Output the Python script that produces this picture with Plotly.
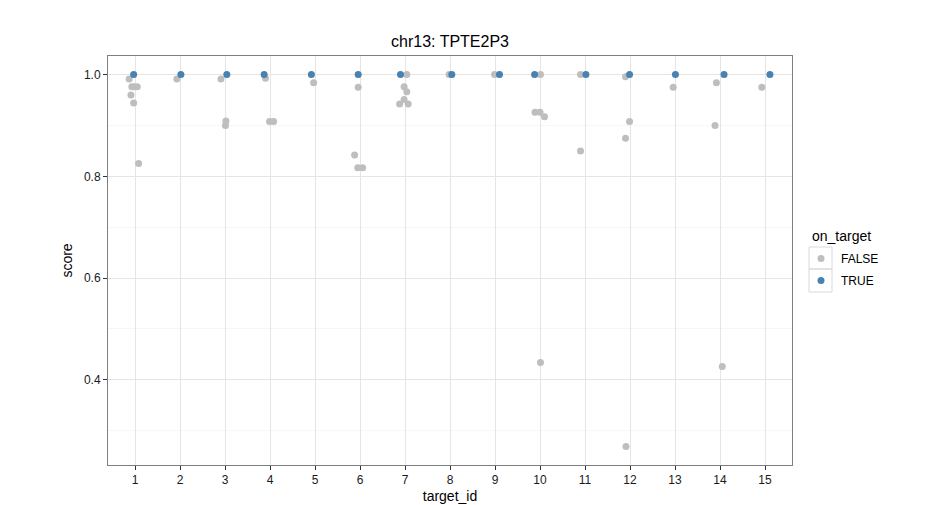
import plotly.graph_objects as go

# ---- data ----
targets = list(range(1, 16))
tick_labels = [str(t) for t in targets]

# off-target (FALSE) points: jittered target position and score
false_x = [0.87, 0.93, 0.99, 1.05, 0.91, 0.97, 1.08,
           1.93,
           2.91, 3.02, 3.01,
           3.90, 3.99, 4.08,
           4.97,
           5.96, 5.88, 5.95, 6.06,
           7.04, 6.98, 7.04, 6.98, 6.88, 7.07,
           7.98,
           8.99,
           10.01, 9.89, 10.00, 10.10, 10.01,
           10.90, 10.90,
           11.90, 11.99, 11.90, 11.91,
           12.96,
           13.92, 13.89, 14.05,
           14.93]
false_score = [0.9915, 0.976, 0.976, 0.976, 0.960, 0.944, 0.825,
               0.9915,
               0.9915, 0.909, 0.900,
               0.993, 0.908, 0.908,
               0.984,
               0.975, 0.842, 0.817, 0.817,
               1.0, 0.976, 0.9665, 0.951, 0.942, 0.942,
               1.0,
               1.0,
               1.0, 0.926, 0.926, 0.917, 0.434,
               1.0, 0.850,
               0.996, 0.908, 0.875, 0.269,
               0.975,
               0.984, 0.900, 0.426,
               0.975]

# on-target (TRUE) points
true_x = [0.97, 2.02, 3.04, 3.87, 4.92, 5.96, 6.90, 8.04, 9.10, 9.88,
          11.02, 11.99, 13.01, 14.09, 15.11]
true_score = [1.0] * 15

y_ticks = [0.4, 0.6, 0.8, 1.0]
y_tick_labels = ["0.4", "0.6", "0.8", "1.0"]

FONT = "Liberation Sans, Arial, Helvetica, sans-serif"
GREY = "#BEBEBE"
BLUE = "#4682B4"

# plot-area geometry (pixels)
L, R, T, B = 108, 792, 56, 465
W, H = R - L, B - T

def px_x(p):
    return (p - L) / W

def px_y(p):
    return (B - p) / H

fig = go.Figure()
fig.add_trace(go.Scatter(x=false_x, y=false_score, mode="markers", name="FALSE",
                         legendgroup="f",
                         marker=dict(color=GREY, size=7, line=dict(width=0))))
fig.add_trace(go.Scatter(x=true_x, y=true_score, mode="markers", name="TRUE",
                         legendgroup="t",
                         marker=dict(color=BLUE, size=7, line=dict(width=0))))

ymin = min(false_score + true_score)
ymax = max(false_score + true_score)
pad = (ymax - ymin) * 0.05

# legend key boxes
shapes = []
for y0, y1 in [(247, 269), (269, 292)]:
    shapes.append(dict(type="rect", xref="paper", yref="paper",
                       x0=px_x(809), x1=px_x(832), y0=px_y(y1), y1=px_y(y0),
                       line=dict(color="#D9D9D9", width=1), fillcolor="rgba(0,0,0,0)",
                       layer="below"))

annotations = [dict(text="on_target", xref="paper", yref="paper",
                    x=px_x(810), y=px_y(236), xanchor="left", yanchor="middle",
                    showarrow=False, font=dict(size=14, color="#000000"))]

fig.update_layout(
    width=946, height=505,
    margin=dict(l=L, r=946 - R, t=T, b=505 - B),
    paper_bgcolor="white", plot_bgcolor="white",
    font=dict(family=FONT, color="#000000"),
    title=dict(text="chr13: TPTE2P3", x=(L + R) / 2 / 946, xanchor="center",
               y=1 - 41 / 505, yanchor="middle",
               font=dict(size=16, color="#000000")),
    showlegend=True,
    legend=dict(font=dict(size=12), x=px_x(801), xanchor="left",
                y=px_y(244), yanchor="top", tracegroupgap=3,
                bgcolor="rgba(0,0,0,0)"),
    shapes=shapes,
    annotations=annotations,
)
fig.update_xaxes(
    range=[0.4, 15.6], tickvals=targets, ticktext=tick_labels,
    showgrid=True, gridcolor="#E5E5E5", gridwidth=1, zeroline=False,
    showline=True, linecolor="#7F7F7F", linewidth=1, mirror=True,
    ticks="outside", ticklen=4, tickcolor="#333333",
    tickfont=dict(size=12, color="#1a1a1a"), automargin=False,
    title=dict(text="target_id", font=dict(size=14), standoff=4),
)
fig.update_yaxes(
    range=[ymin - pad, ymax + pad], tickvals=y_ticks, ticktext=y_tick_labels,
    showgrid=True, gridcolor="#E5E5E5", gridwidth=1, zeroline=False,
    showline=True, linecolor="#7F7F7F", linewidth=1, mirror=True,
    ticks="outside", ticklen=4, tickcolor="#333333",
    tickfont=dict(size=12, color="#1a1a1a"), automargin=False,
    minor=dict(tick0=0.3, dtick=0.2, showgrid=True, gridcolor="#F7F7F7", ticklen=0),
    title=dict(text="score", font=dict(size=14), standoff=8),
)

fig.write_html("out.html", config={"displayModeBar": False},
               post_script="document.body.style.margin='0px';")
